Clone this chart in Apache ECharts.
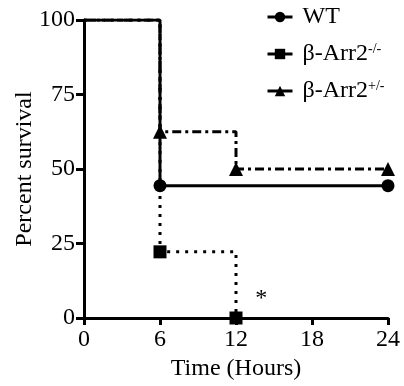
<!DOCTYPE html>
<html>
<head>
<meta charset="utf-8">
<script src="https://cdn.jsdelivr.net/npm/echarts@6/dist/echarts.min.js"></script>
<style>
  html, body { margin: 0; padding: 0; background: #fff; }
  #chart { width: 404px; height: 386px; }
</style>
</head>
<body>
<div id="chart"></div>
<script>
// survival data (time in hours, percent survival)
var wtData = [[0, 100], [6, 44.4], [24, 44.4]];
var koData = [[0, 100], [6, 22.2], [12, 0]];
var hetData = [[0, 100], [6, 62.5], [12, 50], [24, 50]];
var xTicks = [0, 6, 12, 18, 24];
var yTicks = [0, 25, 50, 75, 100];
var seriesNames = ['WT', 'β-Arr2-/-', 'β-Arr2+/-'];
var starAt = [14, 6.5];

var chart = echarts.init(document.getElementById('chart'), null, { renderer: 'canvas' });
var font = 'Liberation Serif';

// first point of each curve carries no marker
function marks(data) {
    return data.map(function (d, i) {
        return i === 0 ? { value: d, symbol: 'none' } : { value: d };
    });
}

var option = {
    animation: false,
    backgroundColor: '#fff',
    textStyle: { fontFamily: font, color: '#000' },
    grid: { left: 84, right: 16, top: 20, bottom: 68, outerBoundsMode: 'none' },
    legend: {
        orient: 'vertical',
        left: 261,
        top: 0,
        itemGap: 13,
        itemWidth: 25,
        itemHeight: 13,
        data: seriesNames,
        lineStyle: { type: 'solid', width: 3 },
        textStyle: {
            fontFamily: font, fontSize: 24, color: '#000', lineHeight: 24,
            padding: [0, 0, 0, 5],
            rich: { sup: { fontFamily: font, fontSize: 14, color: '#000', lineHeight: 24, verticalAlign: 'top', padding: [0, 0, 8, 0] } }
        },
        formatter: function (name) {
            if (name === 'WT') return 'WT';
            return 'β-Arr2{sup|' + name.slice(6) + '}';
        }
    },
    xAxis: {
        type: 'value',
        min: xTicks[0], max: xTicks[xTicks.length - 1], interval: 6,
        name: 'Time (Hours)',
        nameLocation: 'middle',
        nameGap: 38,
        nameTextStyle: { fontFamily: font, fontSize: 24, color: '#000' },
        axisLine: { show: true, lineStyle: { color: '#000', width: 3 } },
        axisTick: { show: true, length: 7, lineStyle: { color: '#000', width: 3 } },
        axisLabel: { fontFamily: font, fontSize: 24, color: '#000', margin: 10 },
        splitLine: { show: false }
    },
    yAxis: {
        type: 'value',
        min: yTicks[0], max: yTicks[yTicks.length - 1], interval: 25,
        name: 'Percent survival',
        nameLocation: 'middle',
        nameGap: 47,
        nameMoveOverlap: false,
        nameTextStyle: { fontFamily: font, fontSize: 24, color: '#000' },
        axisLine: { show: true, lineStyle: { color: '#000', width: 3 } },
        axisTick: { show: true, length: 8, lineStyle: { color: '#000', width: 3 } },
        axisLabel: { fontFamily: font, fontSize: 24, color: '#000', margin: 9 },
        splitLine: { show: false }
    },
    series: [
        {
            name: seriesNames[1], type: 'line', step: 'end',
            data: marks(koData),
            symbol: 'rect', symbolSize: 13,
            itemStyle: { color: '#000' },
            lineStyle: { color: '#000', width: 3, type: [3, 6] },
            markPoint: {
                symbol: 'circle',
                symbolSize: 2,
                itemStyle: { color: 'rgba(0,0,0,0)' },
                label: { show: true, position: 'inside', formatter: '*', fontFamily: font, fontSize: 24, color: '#000' },
                data: [{ coord: starAt }]
            },
            z: 2
        },
        {
            name: seriesNames[2], type: 'line', step: 'end',
            data: marks(hetData),
            symbol: 'triangle', symbolSize: 14,
            itemStyle: { color: '#000' },
            lineStyle: { color: '#000', width: 3, type: [9, 4, 3, 4] },
            z: 3
        },
        {
            name: seriesNames[0], type: 'line', step: 'end',
            data: marks(wtData),
            symbol: 'circle', symbolSize: 13,
            itemStyle: { color: '#000' },
            lineStyle: { color: '#000', width: 3, type: 'solid' },
            z: 4
        }
    ]
};

chart.setOption(option);
</script>
</body>
</html>
